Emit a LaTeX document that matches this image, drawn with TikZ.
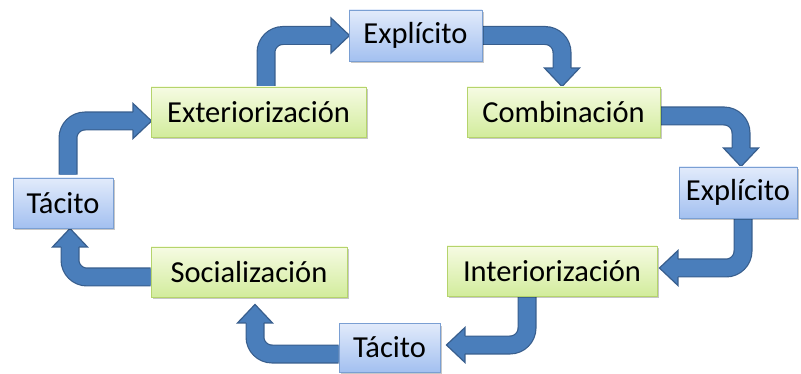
\documentclass[tikz,border=0pt]{standalone}
\usepackage{fontspec}
\setmainfont{Carlito}
\usetikzlibrary{calc,shadows,backgrounds}
\definecolor{bluetop}{HTML}{E2EBFB}
\definecolor{bluebot}{HTML}{A3C0F0}
\definecolor{blueline}{HTML}{7A9FD3}
\definecolor{greentop}{HTML}{F6FBE3}
\definecolor{greenbot}{HTML}{D2EC9C}
\definecolor{greenline}{HTML}{B5D46C}
\definecolor{arrfillc}{HTML}{4A7EBB}
\definecolor{arrlinec}{HTML}{385E8D}
\tikzset{
  boxbase/.style={draw, line width=0.9pt, inner sep=0pt, font=\fontsize{30.5}{36}\selectfont,
    drop shadow={shadow xshift=1.5pt, shadow yshift=-2.5pt, opacity=0.22, fill=black}},
  bluebox/.style={boxbase, draw=blueline, top color=bluetop, bottom color=bluebot},
  greenbox/.style={boxbase, draw=greenline, top color=greentop, bottom color=greenbot},
}
\newcommand{\bentarr}[3]{%
  \coordinate (bc) at (#1 #3 #2);
  \coordinate (ba) at ($(#2)!18.5pt!(bc)$);
  \draw[arrlinec, line width=19pt, rounded corners=17pt] (#1) -- (bc) -- (ba);
  \draw[arrfillc, line width=16.6pt, rounded corners=17pt] (#1) -- (bc) -- (ba);
  \filldraw[fill=arrfillc, draw=arrlinec, line width=1.2pt, line join=miter]
    ($(ba)!8.9pt!90:(#2)$) -- ($(ba)!17.5pt!90:(#2)$) -- (#2) -- ($(ba)!17.5pt!-90:(#2)$) -- ($(ba)!8.9pt!-90:(#2)$);
}
\begin{document}
\begin{tikzpicture}[x=1pt,y=-1pt]
\useasboundingbox (0,0) rectangle (801,374);
\node[bluebox, minimum width=133pt, minimum height=51pt] (expT) at (415.5,35.5) {Explícito};
\node[greenbox, minimum width=215pt, minimum height=50pt] (ext) at (258.5,112) {Exteriorización};
\node[bluebox, minimum width=100pt, minimum height=50pt] (tacL) at (63,203) {Tácito};
\node[greenbox, minimum width=193pt, minimum height=50pt] (comb) at (563.5,112) {Combinación};
\node[bluebox, minimum width=118pt, minimum height=51pt] (expR) at (738,192.5) {Explícito};
\node[greenbox, minimum width=210pt, minimum height=50pt] (inter) at (552,271) {Interiorización};
\node[greenbox, minimum width=196pt, minimum height=50pt] (soc) at (249,272) {Socialización};
\node[bluebox, minimum width=101pt, minimum height=49pt] (tacB) at (389.5,347.5) {Tácito};
\begin{scope}[on background layer]
  % 1 Tacito -> Exteriorizacion
  \coordinate (s1) at ([xshift=5pt,yshift=3pt]tacL.north);
  \coordinate (t1) at ([yshift=-9pt,xshift=1pt]ext.west);
  \bentarr{s1}{t1}{|-}
  % 2 Exteriorizacion -> Explicito
  \coordinate (s2) at ([xshift=7.5pt]ext.north);
  \coordinate (t2) at ([xshift=1pt]expT.west);
  \bentarr{s2}{t2}{|-}
  % 3 Explicito -> Combinacion
  \coordinate (s3) at (expT.east);
  \coordinate (t3) at ([xshift=-1.5pt]comb.north);
  \bentarr{s3}{t3}{-|}
  % 4 Combinacion -> Explicito
  \coordinate (s4) at ([yshift=-4pt]comb.east);
  \coordinate (t4) at ([xshift=3pt]expR.north);
  \bentarr{s4}{t4}{-|}
  % 5 Explicito -> Interiorizacion
  \coordinate (s5) at ([xshift=5pt]expR.south);
  \coordinate (t5) at ([yshift=3pt,xshift=2pt]inter.east);
  \bentarr{s5}{t5}{|-}
  % 6 Interiorizacion -> Tacito
  \coordinate (s6) at ([xshift=-25pt]inter.south);
  \coordinate (t6) at ([yshift=2.5pt,xshift=6pt]tacB.east);
  \bentarr{s6}{t6}{|-}
  % 7 Tacito -> Socializacion
  \coordinate (s7) at ([yshift=-6.5pt]tacB.west);
  \coordinate (t7) at ([xshift=6pt,yshift=-7pt]soc.south);
  \bentarr{s7}{t7}{-|}
  % 8 Socializacion -> Tacito
  \coordinate (s8) at ([yshift=-5pt]soc.west);
  \coordinate (t8) at ([xshift=7pt]tacL.south);
  \bentarr{s8}{t8}{-|}
\end{scope}
\end{tikzpicture}
\end{document}
